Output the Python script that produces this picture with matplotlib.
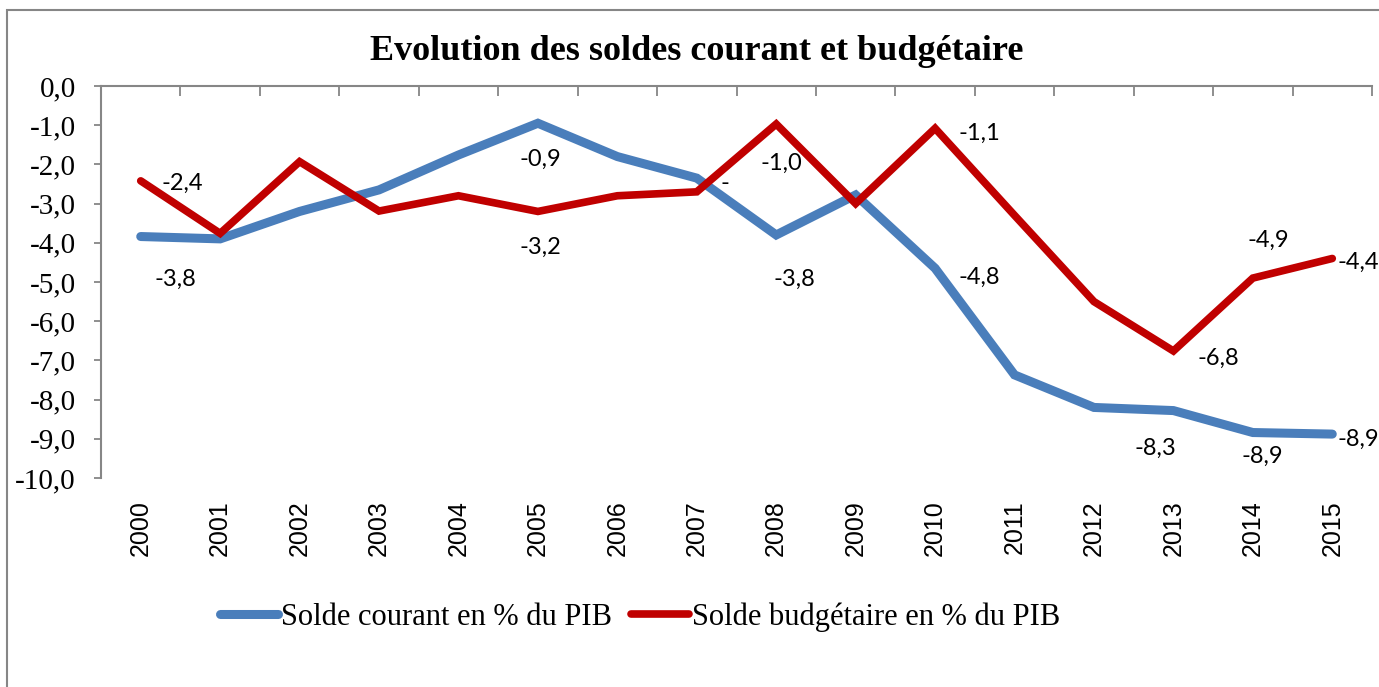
import numpy as np
import matplotlib
matplotlib.use("Agg")
import matplotlib.pyplot as plt
from matplotlib.patches import Rectangle

# Data

years = ["2000", "2001", "2002", "2003", "2004", "2005", "2006", "2007",
         "2008", "2009", "2010", "2011", "2012", "2013", "2014", "2015"]

solde_courant = [-3.84, -3.9, -3.2, -2.65, -1.76, -0.95, -1.8, -2.35,
                 -3.8, -2.78, -4.65, -7.37, -8.2, -8.28, -8.84, -8.88]

solde_budget = [-2.42, -3.76, -1.93, -3.19, -2.8, -3.2, -2.8, -2.7,
                -0.97, -3.0, -1.08, -3.3, -5.5, -6.76, -4.9, -4.4]

# data labels shown on the chart: (year index, text, offset in points)
labels_courant = [
    (0, "-3,8", (25, -31)),
    (5, "-0,9", (1.5, -26)),
    (7, "-", (20, -4)),
    (8, "-3,8", (13, -32)),
    (10, "-4,8", (32, -6.5)),
    (13, "-8,3", (-13, -27)),
    (14, "-8,9", (6.5, -17)),
    (15, "-8,9", (19, -3.5)),
]

labels_budget = [
    (0, "-2,4", (30, -1.5)),
    (5, "-3,2", (1.5, -26)),
    (8, "-1,0", (4, -28)),
    (10, "-1,1", (32, -3.5)),
    (13, "-6,8", (32, -5)),
    (14, "-4,9", (11, 27)),
    (15, "-4,4", (19, -3)),
]

BLUE = "#4A7EBB"
RED = "#C00000"
GRAY = "#868686"

# Plot

fig = plt.figure(figsize=(13.79, 6.87), dpi=100)
ax = fig.add_axes([101 / 1379, 1 - 478 / 687, 1271 / 1379, 392 / 687])

x = np.arange(len(years))

ax.plot(x, solde_courant, color=BLUE, lw=6.5, solid_capstyle="round",
        solid_joinstyle="miter", label="Solde courant en % du PIB", zorder=2)
ax.plot(x, solde_budget, color=RED, lw=5.5, solid_capstyle="round",
        solid_joinstyle="miter", label="Solde budgétaire en % du PIB", zorder=3)

for i, txt, off in labels_courant:
    ax.annotate(txt, (x[i], solde_courant[i]), xytext=off,
                textcoords="offset points", ha="center", va="center",
                fontsize=17, family="Lato")

for i, txt, off in labels_budget:
    ax.annotate(txt, (x[i], solde_budget[i]), xytext=off,
                textcoords="offset points", ha="center", va="center",
                fontsize=17, family="Lato")

ax.set_xlim(-0.5, len(years) - 0.5)
ax.set_ylim(-10, 0)

ax.set_yticks(np.arange(-10, 0.1, 1))
ax.set_yticklabels([f"{v:.1f}".replace(".", ",") for v in np.arange(-10, 0.1, 1)],
                   family="Liberation Serif", fontsize=21)
ax.tick_params(axis="y", direction="out", length=5, width=1.3, color=GRAY, pad=13)

ax.set_xticks(x)
ax.set_xticklabels(years, rotation=90, family="Liberation Sans", fontsize=18,
                   va="top")
ax.set_xticks(np.arange(-0.5, len(years), 1), minor=True)
ax.tick_params(axis="x", which="major", length=0, pad=16)
ax.tick_params(axis="x", which="minor", bottom=False, top=True,
               direction="in", length=7, width=1.3, color=GRAY)

for side in ["right", "bottom"]:
    ax.spines[side].set_visible(False)
for side in ["top", "left"]:
    ax.spines[side].set_color(GRAY)
    ax.spines[side].set_linewidth(1.5)

fig.text(697 / 1379, 1 - 52 / 687, "Evolution des soldes courant et budgétaire",
         ha="center", va="center", family="Liberation Serif",
         fontweight="bold", fontsize=26)

fig.legend(loc="center", bbox_to_anchor=(640 / 1379, 1 - 617 / 687), ncol=2,
           frameon=False, prop={"family": "Liberation Serif", "size": 22},
           handlelength=1.9, handletextpad=0.1, columnspacing=0.6)

fig.add_artist(Rectangle((7 / 1379, -0.1), 1.2, 1.1 - 10 / 687, fill=False,
                         edgecolor=GRAY, lw=1.5, transform=fig.transFigure))

plt.savefig("out.png", dpi=100)
